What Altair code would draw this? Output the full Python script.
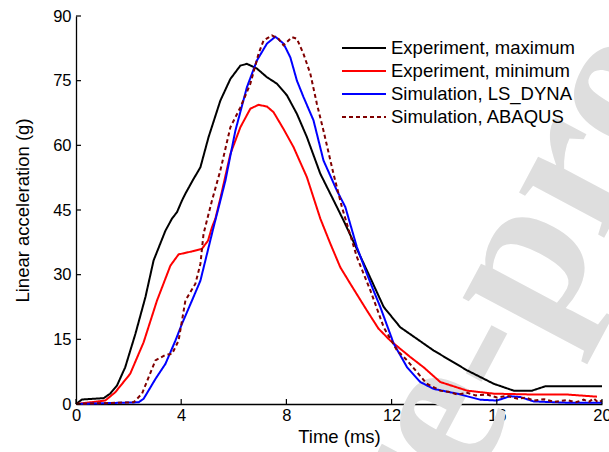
import altair as alt
import pandas as pd

# ---- data ----
max_t = [0, 0.23, 1.05, 1.3, 1.56, 1.87, 2.26, 2.64, 2.95, 3.4, 3.65, 3.84, 4.03, 4.16, 4.45, 4.73, 5.04, 5.49,
         5.87, 6.25, 6.5, 6.88, 7.26, 7.64, 8.02, 8.4, 8.78, 9.29, 9.92, 10.17, 11.06, 11.7, 12.33, 13.6, 14.87,
         15.88, 16.64, 17.34, 17.84, 20]
max_g = [0, 1.05, 1.35, 2.4, 4.3, 8.5, 16.3, 24.8, 33.3, 40.2, 43, 44.5, 47.2, 48.8, 52.0, 54.9, 61.9, 70.4,
         75.4, 78.5, 78.9, 77.8, 75.8, 74.3, 71.6, 67.3, 61.9, 53.4, 45.7, 42.6, 31.0, 22.5, 17.8, 12.4, 7.8,
         4.7, 3.1, 3.1, 4.1, 4.1]

min_t = [0, 1.11, 1.49, 2.06, 2.57, 3.08, 3.59, 3.9, 4.41, 4.79, 5.02, 5.17, 5.3, 5.5, 5.87, 6.25, 6.63, 6.94,
         7.26, 7.51, 7.89, 8.27, 8.78, 9.29, 9.67, 10.05, 10.43, 11.06, 11.5, 11.95, 12.71, 13.22, 13.85, 14.87,
         15.88, 17.4, 18.67, 19.81]
min_g = [0, 0.8, 2.7, 7, 14.3, 24, 32.1, 34.7, 35.4, 36.0, 37.9, 41.0, 43.0, 48.0, 58.0, 64.2, 68.5, 69.4,
         69.0, 67.7, 63.8, 59.6, 52.6, 43.0, 37.2, 31.7, 27.9, 21.7, 17.5, 14.7, 10.9, 8.5, 5.1, 3.1,
         2.4, 2.2, 2.2, 1.7]

dyna_t = [0, 2.38, 2.57, 3.02, 3.4, 3.78, 4.03, 4.41, 4.73, 4.98, 5.23, 5.49, 5.68, 6.06, 6.5, 6.88, 7.26, 7.58,
          7.89, 8.15, 8.4, 8.65, 9.03, 9.41, 9.92, 10.24, 10.68, 11.06, 11.3, 11.57, 12.08, 12.59, 13.09, 13.6,
          14.49, 15.37, 16.0, 16.5, 16.9, 17.4, 18.67, 20]
dyna_g = [0, 0.4, 1.2, 5.8, 9.3, 14.7, 18.6, 24.0, 28.6, 34.8, 41.0, 47.2, 51.8, 63.4, 73.5, 79.7, 83.6, 85.2,
          83.6, 80.4, 75.0, 71.2, 65.8, 56.5, 49.5, 45.7, 36.4, 30.2, 26.5, 22.5, 14.0, 8.5, 5.1, 3.5,
          2.4, 1.0, 0.8, 1.8, 1.6, 0.6, 0.3, 0.3]

abq_t = [0, 2.19, 2.51, 3.02, 3.4, 3.65, 3.9, 4.16, 4.54, 4.73, 4.85, 5.17, 5.49, 5.87, 6.25, 6.63, 6.94, 7.13,
         7.45, 7.7, 7.89, 8.21, 8.4, 8.65, 8.91, 9.16, 9.41, 9.79, 10.11, 10.3, 10.68, 11.19, 11.7, 12.2, 12.59,
         13.34, 13.85, 14.2, 14.5, 14.87, 15.2, 15.63, 16.0, 16.39, 16.8, 17.1, 17.4, 17.8, 18.2, 18.67, 19.0,
         19.3, 19.5, 19.68, 19.85, 20]
abq_g = [0, 0.4, 2.4, 10.1, 11.4, 11.6, 14.7, 24.0, 27.9, 32.5, 39.5, 47.2, 54.2, 64.2, 68.8, 74.3, 81.2, 84.3,
         85.5, 84.7, 83.2, 85.1, 84.7, 81.2, 76.6, 69.6, 63.4, 53.4, 45.7, 41.8, 34.1, 26.4, 17.8, 12.5, 10.1,
         4.7, 3.1, 2.8, 2.2, 2.6, 2.0, 2.2, 1.5, 1.9, 1.2, 1.5, 0.8, 1.1, 0.5, 0.9, 0.4,
         1.0, 0.5, 1.3, 0.4, 0.8]

series_names = ["Experiment, maximum", "Experiment, minimum", "Simulation, LS_DYNA", "Simulation, ABAQUS"]
series_colors = ["#000000", "#ff0000", "#0000ff", "#800000"]
series_dash = [[1, 0], [1, 0], [1, 0], [4, 3]]

x_ticks = [0, 4, 8, 12, 16, 20]
y_ticks = [0, 15, 30, 45, 60, 75, 90]
watermark = ["Journal Pre-proof"]

rows = []
for name, ts, gs in zip(series_names, [max_t, min_t, dyna_t, abq_t], [max_g, min_g, dyna_g, abq_g]):
    for i, (t, g) in enumerate(zip(ts, gs)):
        rows.append({"series": name, "t": t, "g": g, "order": i})
df = pd.DataFrame(rows)

W, H = 526, 388
FONT = "Liberation Sans"

xscale = alt.Scale(domain=[0, 20], nice=False, zero=False)
yscale = alt.Scale(domain=[0, 90], nice=False, zero=False)

wm = alt.Chart(pd.DataFrame({"w": watermark})).mark_text(
    font="Liberation Serif", fontWeight="bold", fontSize=210, color="#dedede",
    angle=298, align="center", baseline="middle"
).encode(text="w:N", x=alt.value(263), y=alt.value(586))

legend_kw = dict(title=None, orient="none", legendX=265, legendY=20,
                 symbolType="M-1,0H3", symbolSize=484, symbolStrokeWidth=2,
                 labelFontSize=18.5, labelFont=FONT, labelColor="black", labelLimit=0,
                 rowPadding=1, labelOffset=26, padding=0)

lines = alt.Chart(df).mark_line(strokeWidth=2).encode(
    x=alt.X("t:Q", scale=xscale,
            axis=alt.Axis(title="Time (ms)", values=x_ticks, ticks=False, grid=False, labelFlush=False,
                          labelPadding=3, titleY=32, titleBaseline="middle")),
    y=alt.Y("g:Q", scale=yscale,
            axis=alt.Axis(title="Linear acceleration (g)", values=y_ticks, ticks=False, grid=False,
                          labelFlush=False, labelPadding=5, titleX=-54, titleAngle=270,
                          titleBaseline="middle")),
    color=alt.Color("series:N", scale=alt.Scale(domain=series_names, range=series_colors),
                    legend=alt.Legend(**legend_kw)),
    strokeDash=alt.StrokeDash("series:N", scale=alt.Scale(domain=series_names, range=series_dash),
                              legend=alt.Legend(**legend_kw)),
    order="order:Q",
)

xt = alt.Chart(pd.DataFrame({"t": x_ticks})).mark_rule(color="black", strokeWidth=1.2).encode(
    x=alt.X("t:Q", scale=xscale), y=alt.value(H), y2=alt.value(H - 5))
yt = alt.Chart(pd.DataFrame({"g": y_ticks})).mark_rule(color="black", strokeWidth=1.2).encode(
    y=alt.Y("g:Q", scale=yscale), x=alt.value(0), x2=alt.value(5))

chart = alt.layer(wm, lines, xt, yt).properties(
    width=W, height=H,
    autosize=alt.AutoSizeParams(type="none"),
    padding={"left": 76, "top": 16, "right": 7, "bottom": 48},
).configure_view(stroke=None).configure_axis(
    domainColor="black", domainWidth=1.3, labelFont=FONT, labelFontSize=16.5, labelColor="black",
    titleFont=FONT, titleFontSize=18.5, titleColor="black", titleFontWeight="normal",
).configure_axisX(labelAngle=0)

chart.save("out.html", embed_options={"renderer": "svg", "actions": False})
